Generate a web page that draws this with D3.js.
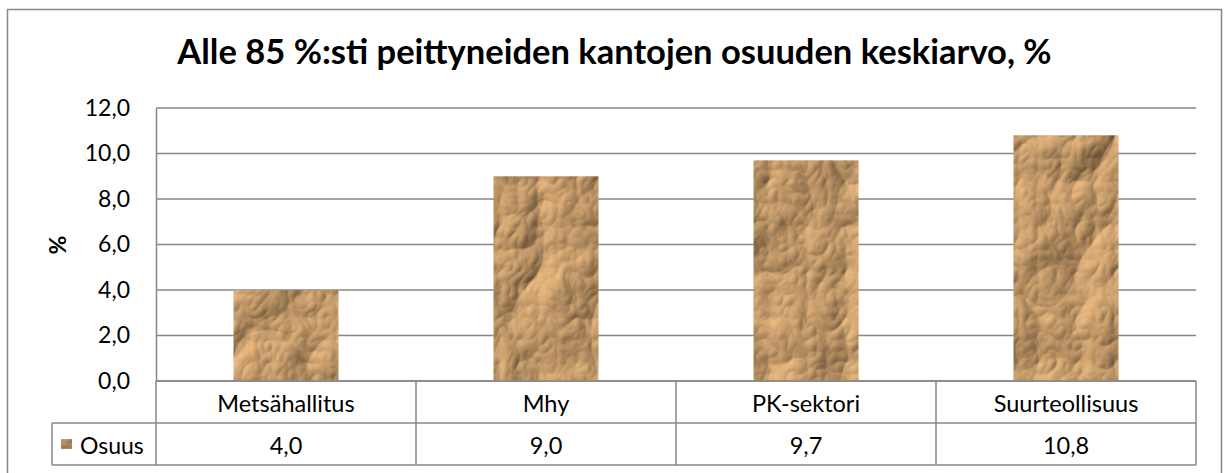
<!DOCTYPE html>
<html>
<head>
<meta charset="utf-8">
<script src="https://cdn.jsdelivr.net/npm/d3@7"></script>
<style>
  body { margin: 0; background: #fff; }
  text { font-family: Lato, "Open Sans", sans-serif; fill: #000; }
</style>
</head>
<body>
<div class="chart"></div>
<script>
// data
const categories = ['Metsähallitus', 'Mhy', 'PK-sektori', 'Suurteollisuus'];
const values = [4.0, 9.0, 9.7, 10.8];
const seriesName = 'Osuus';
const yTicks = [0, 2, 4, 6, 8, 10, 12];
const title = 'Alle 85 %:sti peittyneiden kantojen osuuden keskiarvo, %';
const yTitle = '%';

const W = 1229, H = 473;
const plot = { left: 156, right: 1196, top: 108, bottom: 381 };
const rowH = 42;
const grey = '#878787';

const fi = d3.formatLocale({ decimal: ',', thousands: ' ', grouping: [3], currency: ['', ''] });
const fmt = fi.format('.1f');

const svg = d3.select('.chart')
    .append('svg')
    .attr('width', W)
    .attr('height', H);

// crumpled paper look
const defs = svg.append('defs');
const filt = defs.append('filter')
    .attr('id', 'paper')
    .attr('x', 0).attr('y', 0).attr('width', 1).attr('height', 1)
    .attr('color-interpolation-filters', 'sRGB');
filt.append('feTurbulence')
    .attr('type', 'turbulence')
    .attr('baseFrequency', '0.013 0.011')
    .attr('numOctaves', 4)
    .attr('seed', 4)
    .attr('result', 'noise');
filt.append('feDiffuseLighting')
    .attr('in', 'noise')
    .attr('surfaceScale', 5.5)
    .attr('diffuseConstant', 1.1)
    .attr('lighting-color', '#e6b882')
    .attr('result', 'light')
    .append('feDistantLight')
    .attr('azimuth', 225)
    .attr('elevation', 45);
filt.append('feFlood')
    .attr('flood-color', '#8c6941')
    .attr('result', 'base');
filt.append('feComposite')
    .attr('in', 'light')
    .attr('in2', 'base')
    .attr('operator', 'arithmetic')
    .attr('k2', 0.82)
    .attr('k3', 0.3)
    .attr('result', 'mix');
filt.append('feComposite')
    .attr('in', 'mix')
    .attr('in2', 'SourceGraphic')
    .attr('operator', 'in');

// outer frame
svg.append('rect')
    .attr('x', 7.5).attr('y', 9.5)
    .attr('width', 1214).attr('height', 470)
    .attr('fill', 'none')
    .attr('stroke', grey)
    .attr('stroke-width', 1.5);

const x = d3.scaleBand()
    .domain(categories)
    .range([plot.left, plot.right])
    .paddingInner(0.596)
    .paddingOuter(0.298);

const y = d3.scaleLinear()
    .domain([0, 12])
    .range([plot.bottom, plot.top]);

// gridlines
svg.append('g')
    .selectAll('line')
    .data(yTicks)
    .join('line')
    .attr('x1', plot.left).attr('x2', plot.right)
    .attr('y1', d => y(d)).attr('y2', d => y(d))
    .attr('stroke', grey)
    .attr('stroke-width', 1.5);

// y axis
const yAxis = svg.append('g')
    .attr('transform', `translate(${plot.left},0)`)
    .call(d3.axisLeft(y).tickValues(yTicks).tickSize(0).tickPadding(26).tickFormat(fmt));
yAxis.select('.domain').attr('stroke', grey).attr('stroke-width', 1.5);
yAxis.selectAll('text')
    .style('font-family', 'Lato, sans-serif')
    .style('font-size', '23px')
    .attr('fill', '#000');

// bars
svg.append('g')
    .selectAll('rect')
    .data(values)
    .join('rect')
    .attr('x', (d, i) => x(categories[i]))
    .attr('y', d => y(d))
    .attr('width', x.bandwidth())
    .attr('height', d => y(0) - y(d))
    .attr('fill', '#c49a68')
    .attr('filter', 'url(#paper)');

// data table
const tbl = svg.append('g');
const tblLeft = 52;
const r1 = plot.bottom, r2 = plot.bottom + rowH, r3 = plot.bottom + 2 * rowH;
const cols = categories.map(c => x(c) - x.step() * x.paddingInner() / 2);
cols.push(plot.right);

tbl.append('line')
    .attr('x1', plot.left).attr('x2', plot.right)
    .attr('y1', r1).attr('y2', r1);
tbl.append('line')
    .attr('x1', tblLeft).attr('x2', plot.right)
    .attr('y1', r2).attr('y2', r2);
tbl.append('line')
    .attr('x1', tblLeft).attr('x2', plot.right)
    .attr('y1', r3).attr('y2', r3);
tbl.append('line')
    .attr('x1', tblLeft).attr('x2', tblLeft)
    .attr('y1', r2).attr('y2', r3);
tbl.selectAll('line.col')
    .data(cols)
    .join('line')
    .attr('class', 'col')
    .attr('x1', d => d).attr('x2', d => d)
    .attr('y1', r1).attr('y2', r3);
tbl.selectAll('line')
    .attr('stroke', grey)
    .attr('stroke-width', 1.5);

tbl.selectAll('text.cat')
    .data(categories)
    .join('text')
    .attr('class', 'cat')
    .attr('x', d => x(d) + x.bandwidth() / 2)
    .attr('y', (r1 + r2) / 2 + 1)
    .attr('text-anchor', 'middle')
    .attr('dominant-baseline', 'central')
    .style('font-size', '23.5px')
    .text(d => d);

tbl.selectAll('text.val')
    .data(values)
    .join('text')
    .attr('class', 'val')
    .attr('x', (d, i) => x(categories[i]) + x.bandwidth() / 2)
    .attr('y', (r2 + r3) / 2 + 1)
    .attr('text-anchor', 'middle')
    .attr('dominant-baseline', 'central')
    .style('font-size', '23.5px')
    .text(d => fmt(d));

// legend key
tbl.append('rect')
    .attr('x', 61).attr('y', 439)
    .attr('width', 11).attr('height', 10)
    .attr('fill', '#c49a68')
    .attr('filter', 'url(#paper)');
tbl.append('text')
    .attr('x', 80)
    .attr('y', (r2 + r3) / 2 + 1)
    .attr('dominant-baseline', 'central')
    .style('font-size', '23px')
    .text(seriesName);

// titles
svg.append('text')
    .attr('x', W / 2)
    .attr('y', 64)
    .attr('text-anchor', 'middle')
    .style('font-size', '34.5px')
    .style('font-weight', 'bold')
    .text(title);

svg.append('text')
    .attr('transform', 'translate(66,245) rotate(-90)')
    .attr('text-anchor', 'middle')
    .style('font-size', '23px')
    .style('font-weight', 'bold')
    .text(yTitle);
</script>
</body>
</html>
